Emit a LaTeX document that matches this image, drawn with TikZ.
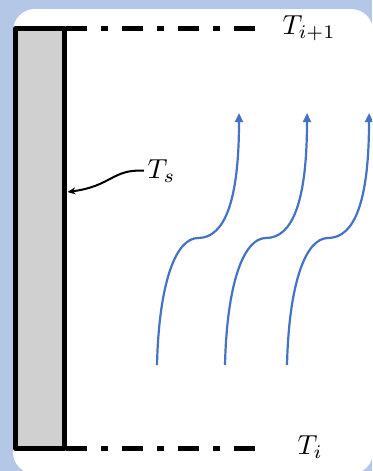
\documentclass[tikz,border=0pt]{standalone}
\usetikzlibrary{arrows.meta}
\definecolor{bgblue}{HTML}{B4C7E7}
\definecolor{flowblue}{HTML}{4472C4}
\definecolor{wallgray}{HTML}{D0D0D0}
\begin{document}
\begin{tikzpicture}[x=1pt,y=-1pt,
  lbl/.style={inner sep=0pt,anchor=base west,scale=2.75},
  wallbox/.style={draw=black,fill=wallgray,line width=5pt,line join=round,inner sep=0pt,outer sep=0pt,minimum width=49pt,minimum height=420pt},
  dashdot/.style={line width=5pt,dash pattern=on 21pt off 14pt on 7pt off 14pt},
  flow/.style={draw=flowblue,line width=2.2pt,-{Triangle[length=9pt,width=8pt]}},
  pointer/.style={line width=2pt,-{Stealth[length=8pt,width=7pt]}}]
\useasboundingbox (0,0) rectangle (372,471);
\clip (0,0) rectangle (372,471);
\fill[bgblue] (0,0) rectangle (372,471);
\fill[white,rounded corners=22pt] (13,9) rectangle (373,474);
\node[wallbox] (wall) at (40,238.5) {};
\coordinate (topstart) at (66,28.5);
\coordinate (topend) at (256,28.5);
\coordinate (botstart) at (66,448.5);
\coordinate (botend) at (256,448.5);
\draw[dashdot] (topstart) -- (topend);
\draw[dashdot] (botstart) -- (botend);
\node[lbl] (Tip) at (282,34) {$T_{i+1}$};
\node[lbl] (Ti) at (297,454) {$T_i$};
\node[lbl] (Ts) at (147,178) {$T_s$};
\coordinate (tsend) at (67.5,192);
\draw[pointer] ([xshift=-3pt]Ts.west) .. controls (112,169) and (112,186) .. (tsend);
\foreach \dx/\nm in {0/a,68/b,130/c}{
  \begin{scope}[xshift=\dx]
    \coordinate (\nm0) at (157,365);
    \coordinate (\nm1) at (198,238);
    \coordinate (\nm2) at (239,113);
    \draw[flow] (\nm0) .. controls (159,282) and (176,238) .. (\nm1)
      .. controls (225,238) and (239,200) .. (\nm2);
  \end{scope}
}
\end{tikzpicture}
\end{document}
